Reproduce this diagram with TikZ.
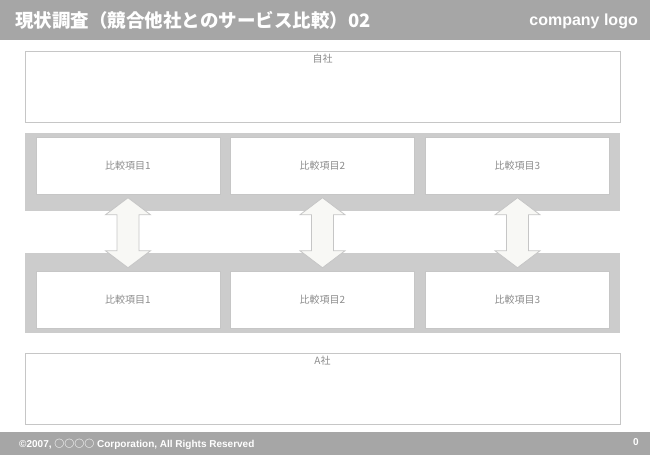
\documentclass[tikz,border=0pt]{standalone}
\usepackage{fontspec}
\setmainfont{Liberation Sans}
\newfontfamily\jp{Noto Sans CJK JP}
\usetikzlibrary{calc,positioning}
\definecolor{HeadClr}{RGB}{166,166,166}
\definecolor{BandClr}{RGB}{204,204,204}
\definecolor{LineClr}{RGB}{198,198,198}
\definecolor{LabelClr}{RGB}{140,140,140}
\definecolor{ArrowClr}{RGB}{248,248,245}

\begin{document}
\begin{tikzpicture}[x=1pt,y=-1pt,
  bar/.style={fill=HeadClr,inner sep=0,minimum width=650pt},
  company/.style={draw=LineClr,line width=.8pt,fill=white,inner sep=0,
    minimum width=595pt,minimum height=71pt},
  band/.style={fill=BandClr,inner sep=0,minimum width=595pt},
  item/.style={draw=LineClr,line width=.8pt,fill=white,inner sep=0,
    minimum width=184pt,minimum height=57pt,text=LabelClr,
    font=\fontsize{10}{11}\selectfont\jp},
  tag/.style={text=LabelClr,inner sep=0,font=\fontsize{10}{11}\selectfont\jp},
  bigarrow/.style={draw=LineClr,line width=.8pt,fill=ArrowClr,line join=miter}]
\useasboundingbox (0,0) rectangle (650,455);

% header and footer
\node[bar,minimum height=40pt] (head) at (325,20) {};
\node[bar,minimum height=23pt] (foot) at (325,443.5) {};
\node[anchor=west,text=white,inner sep=0,font=\fontsize{18.5}{18.5}\selectfont\bfseries\jp]
  (title) at (15,20) {現状調査（競合他社とのサービス比較）02};
\node[anchor=east,text=white,inner sep=0,font=\fontsize{16}{16}\selectfont\bfseries]
  (logo) at (638,21) {company logo};
\node[anchor=west,text=white,inner sep=0,font=\fontsize{10}{11}\selectfont\bfseries]
  (copy) at (19,444) {©2007, {\jp ○○○○} Corporation, All Rights Reserved};
\node[anchor=east,text=white,inner sep=0,font=\fontsize{10}{11}\selectfont\bfseries]
  (page) at (639,442) {0};

% own company
\node[company] (own) at (322.5,86.5) {};
\node[tag,below=3pt of own.north] (ownlbl) {自社};

% upper row of items
\node[band,minimum height=78pt] (bandA) at (322.5,172) {};
\node[item] (upA) at (128,165.5) {比較項目1};
\node[item] (upB) at (322.5,165.5) {比較項目2};
\node[item] (upC) at (517.5,165.5) {比較項目3};

% lower row of items
\node[band,minimum height=80pt] (bandB) at (322.5,293) {};
\node[item] (lowA) at (128,300) {比較項目1};
\node[item] (lowB) at (322.5,300) {比較項目2};
\node[item] (lowC) at (517.5,300) {比較項目3};

% other company
\node[company] (other) at (322.5,389) {};
\node[tag,below=3pt of other.north] (otherlbl) {A社};

% double arrows
\coordinate (mA) at ($(upA.south)!.5!(lowA.north)$);
\coordinate (mB) at ($(upB.south)!.5!(lowB.north)$);
\coordinate (mC) at ($(upC.south)!.5!(lowC.north)$);
\draw[bigarrow] ($(mA)+(0,-35)$) -- ++(22.5,17) -- ++(-11.5,0) -- ++(0,36) -- ++(11.5,0)
  -- ++(-22.5,17) -- ++(-22.5,-17) -- ++(11.5,0) -- ++(0,-36) -- ++(-11.5,0) -- cycle;
\draw[bigarrow] ($(mB)+(0,-35)$) -- ++(22.5,17) -- ++(-11.5,0) -- ++(0,36) -- ++(11.5,0)
  -- ++(-22.5,17) -- ++(-22.5,-17) -- ++(11.5,0) -- ++(0,-36) -- ++(-11.5,0) -- cycle;
\draw[bigarrow] ($(mC)+(0,-35)$) -- ++(22.5,17) -- ++(-11.5,0) -- ++(0,36) -- ++(11.5,0)
  -- ++(-22.5,17) -- ++(-22.5,-17) -- ++(11.5,0) -- ++(0,-36) -- ++(-11.5,0) -- cycle;

\end{tikzpicture}
\end{document}
